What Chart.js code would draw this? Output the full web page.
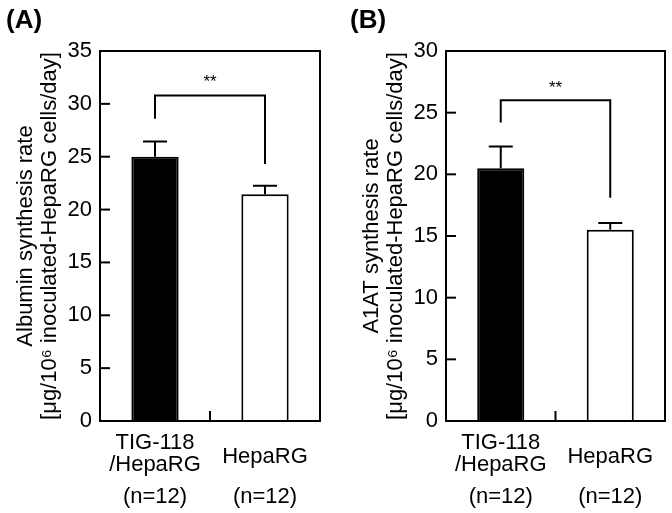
<!DOCTYPE html>
<html>
<head>
<meta charset="utf-8">
<script src="https://cdn.jsdelivr.net/npm/chart.js@4.4.1/dist/chart.umd.min.js"></script>
<style>
  html, body { margin: 0; padding: 0; background: #fff; }
  #wrap { position: relative; width: 672px; height: 513px; }
  .panel { position: absolute; top: 0; width: 336px; height: 513px; }
  #pa { left: 0; }
  #pb { left: 336px; }
</style>
</head>
<body>
<div id="wrap">
  <div class="panel" id="pa"><canvas id="ca" width="336" height="513"></canvas></div>
  <div class="panel" id="pb"><canvas id="cb" width="336" height="513"></canvas></div>
</div>
<script>
// ---- data ----
const categories = ["TIG-118/HepaRG", "HepaRG"];
const categoryLines = [["TIG-118", "/HepaRG"], ["HepaRG"]];
const sampleLabels = ["(n=12)", "(n=12)"];

const albuminMean = [25.0, 21.45];
const albuminSD = [1.45, 0.8];
const a1atMean = [20.5, 15.5];
const a1atSD = [1.75, 0.55];

// significance brackets: [top, left leg end, right leg end, star level]
const albuminBracket = [30.8, 28.6, 24.3, 32.4];
const a1atBracket = [26.0, 24.2, 18.1, 27.3];
const sigLabel = "**";

const albuminTicks = [0, 5, 10, 15, 20, 25, 30, 35];
const a1atTicks = [0, 5, 10, 15, 20, 25, 30];

const albuminTitle = ["Albumin synthesis rate", "[\u03BCg/10\u2076 inoculated-HepaRG cells/day]"];
const a1atTitle = ["A1AT synthesis rate", "[\u03BCg/10\u2076 inoculated-HepaRG cells/day]"];
const panelLabels = ["(A)", "(B)"];

const FONT = "'Liberation Sans', Arial, sans-serif";

function makeChart(canvasId, means, sds, bracket, ticks, title, panelLabel, labelX, axisWidth, rightPad) {
  const yMax = ticks[ticks.length - 1];
  const plugin = {
    id: 'custom_' + canvasId,
    afterDatasetsDraw(chart) {
      const ctx = chart.ctx;
      const ca = chart.chartArea;
      const y = chart.scales.y;
      const x = chart.scales.x;
      const meta = chart.getDatasetMeta(0);
      ctx.save();
      ctx.strokeStyle = '#000';
      ctx.fillStyle = '#000';
      ctx.lineWidth = 2;
      ctx.lineCap = 'butt';
      // error bars
      meta.data.forEach((bar, i) => {
        const yb = y.getPixelForValue(means[i]);
        const yt = y.getPixelForValue(means[i] + sds[i]);
        ctx.beginPath();
        ctx.moveTo(bar.x, yb);
        ctx.lineTo(bar.x, yt);
        ctx.moveTo(bar.x - 12, yt);
        ctx.lineTo(bar.x + 12, yt);
        ctx.stroke();
      });
      // bracket
      const x0 = meta.data[0].x, x1 = meta.data[1].x;
      const yTop = y.getPixelForValue(bracket[0]);
      ctx.beginPath();
      ctx.moveTo(x0, y.getPixelForValue(bracket[1]));
      ctx.lineTo(x0, yTop);
      ctx.lineTo(x1, yTop);
      ctx.lineTo(x1, y.getPixelForValue(bracket[2]));
      ctx.stroke();
      ctx.font = '17px ' + FONT;
      ctx.textAlign = 'center';
      ctx.textBaseline = 'middle';
      ctx.fillText(sigLabel, (x0 + x1) / 2, y.getPixelForValue(bracket[3]) + 4);
      // box
      ctx.strokeRect(ca.left, ca.top, ca.right - ca.left, ca.bottom - ca.top);
      // inward y ticks
      ticks.forEach(t => {
        const py = y.getPixelForValue(t);
        ctx.beginPath();
        ctx.moveTo(ca.left, py);
        ctx.lineTo(ca.left + 10, py);
        ctx.stroke();
      });
      // inward x tick between categories
      const xm = (x.getPixelForValue(0) + x.getPixelForValue(1)) / 2;
      ctx.beginPath();
      ctx.moveTo(xm, ca.bottom);
      ctx.lineTo(xm, ca.bottom - 10);
      ctx.stroke();
      // x labels
      ctx.font = '22px ' + FONT;
      ctx.textAlign = 'center';
      ctx.textBaseline = 'middle';
      categoryLines.forEach((lines, i) => {
        const cx = x.getPixelForValue(i);
        const lh = 22;
        const c = ca.bottom + (lines.length > 1 ? 33 : 36);
        lines.forEach((ln, k) => {
          ctx.fillText(ln, cx, c + (k - (lines.length - 1) / 2) * lh);
        });
        ctx.fillText(sampleLabels[i], cx, ca.bottom + 76);
      });
      // y title
      ctx.font = '22px ' + FONT;
      const cy = (ca.top + ca.bottom) / 2;
      const offs = [ca.left - 74, ca.left - 50];
      title.forEach((ln, k) => {
        ctx.save();
        ctx.translate(offs[k], cy);
        ctx.rotate(-Math.PI / 2);
        ctx.fillText(ln, 0, 0);
        ctx.restore();
      });
      // panel label
      ctx.font = 'bold 26px ' + FONT;
      ctx.textAlign = 'left';
      ctx.fillText(panelLabel, labelX, 21);
      ctx.restore();
    }
  };

  return new Chart(document.getElementById(canvasId), {
    type: 'bar',
    data: {
      labels: categories,
      datasets: [{
        data: means,
        backgroundColor: ['#000000', '#ffffff'],
        borderColor: '#000000',
        borderWidth: 2,
        borderSkipped: 'bottom',
        categoryPercentage: 1,
        barPercentage: 0.43
      }]
    },
    options: {
      responsive: false,
      animation: false,
      events: [],
      layout: { padding: { top: 51, right: rightPad, left: 0, bottom: 0 } },
      plugins: { legend: { display: false }, tooltip: { enabled: false } },
      scales: {
        x: {
          grid: { display: false, drawTicks: false },
          border: { display: false },
          ticks: { display: false },
          afterFit(s) { s.height = 92; }
        },
        y: {
          min: 0,
          max: yMax,
          grid: { display: false, drawTicks: false },
          border: { display: false },
          afterBuildTicks(s) { s.ticks = ticks.map(v => ({ value: v })); },
          ticks: {
            color: '#000',
            padding: 8,
            font: { family: FONT, size: 22 }
          },
          afterFit(s) { s.width = axisWidth; }
        }
      }
    },
    plugins: [plugin]
  });
}

makeChart('ca', albuminMean, albuminSD, albuminBracket, albuminTicks, albuminTitle, panelLabels[0], 6, 100, 16);
makeChart('cb', a1atMean, a1atSD, a1atBracket, a1atTicks, a1atTitle, panelLabels[1], 14, 110, 7);
</script>
</body>
</html>
